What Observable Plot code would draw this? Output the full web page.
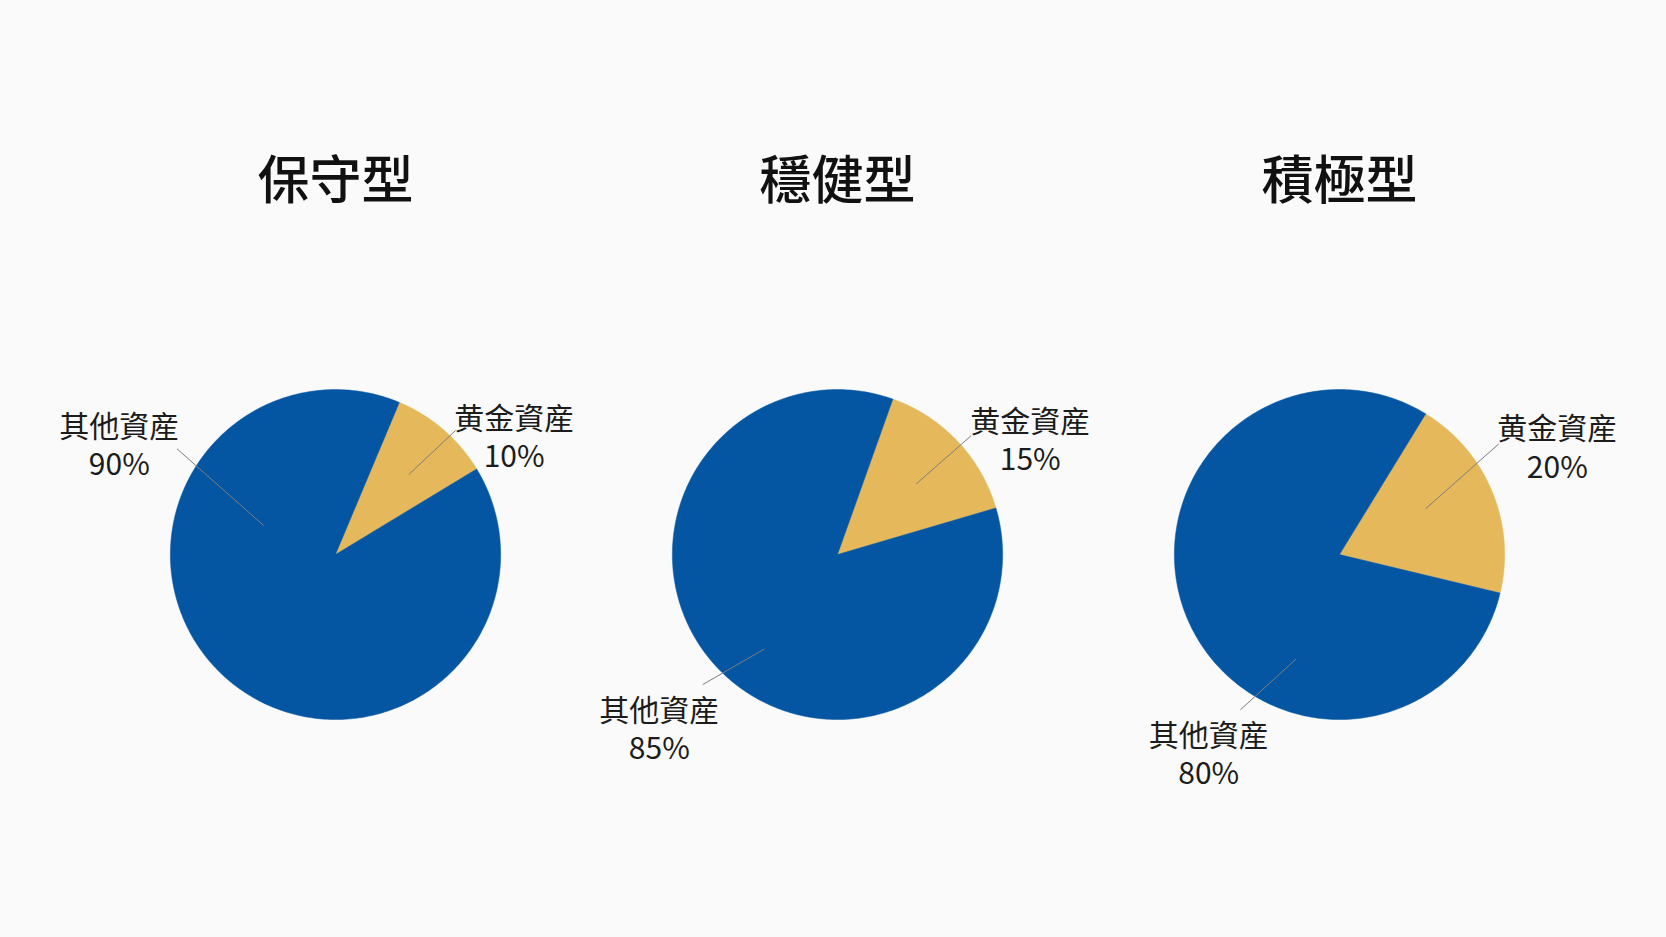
<!DOCTYPE html>
<html><head><meta charset="utf-8">
<script src="https://cdn.jsdelivr.net/npm/d3@7"></script>
<script src="https://cdn.jsdelivr.net/npm/@observablehq/plot@0.6"></script>
<style>
html,body{margin:0;padding:0;background:#fafafa;}
#chart{width:1666px;height:937px;overflow:hidden;}
</style></head><body><div id="chart"></div>
<script>
// ---- data ----
const profiles = ["保守型", "穩健型", "積極型"];
const categories = ["黄金資産", "其他資産"];
const goldShare = [10, 15, 20];
const otherShare = [90, 85, 80];

// ---- styling / layout (not data) ----
const colors = ["#E5B95B", "#0556A2"];
const rotation = [22.75, 19.6, 31.5]; // start angle (deg, clockwise from 12 o'clock) of gold slice
const labelLayout = [
  {gold: [1.082, 0.721], other: [-1.309, 0.673],
   goldLeader: [0.727, 0.752, 0.444, 0.485], otherLeader: [-0.960, 0.641, -0.435, 0.176]},
  {gold: [1.167, 0.701], other: [-1.079, -1.051],
   goldLeader: [0.810, 0.721, 0.477, 0.428], otherLeader: [-0.816, -0.788, -0.442, -0.572]},
  {gold: [1.319, 0.656], other: [-0.792, -1.203],
   goldLeader: [0.965, 0.671, 0.521, 0.277], otherLeader: [-0.600, -0.941, -0.262, -0.632]}
];

// ---- build wedge geometry from shares ----
const wedges = [];
const labels = [];
const leaders = [];
profiles.forEach((p, i) => {
  const shares = [goldShare[i], otherShare[i]];
  let a = rotation[i];
  shares.forEach((v, k) => {
    const a0 = a, a1 = a + v / 100 * 360;
    const cat = categories[k];
    wedges.push({profile: p, category: cat, x: 0, y: 0});
    const steps = Math.max(2, Math.ceil(a1 - a0));
    for (let s = 0; s <= steps; s++) {
      const t = (a0 + (a1 - a0) * s / steps) * Math.PI / 180;
      wedges.push({profile: p, category: cat, x: Math.sin(t), y: Math.cos(t)});
    }
    wedges.push({profile: p, category: cat, x: 0, y: 0});
    a = a1;
    const key = k === 0 ? "gold" : "other";
    const L = labelLayout[i];
    labels.push({profile: p, text: `${cat}\n${v}%`, x: L[key][0], y: L[key][1]});
    const ld = L[key + "Leader"];
    leaders.push({profile: p, x1: ld[0], y1: ld[1], x2: ld[2], y2: ld[3]});
  });
});

const chart = Plot.plot({
  width: 1666,
  height: 937,
  marginLeft: 84,
  marginRight: 76,
  marginTop: 0,
  marginBottom: 0,
  style: {background: "transparent", fontFamily: "'Noto Sans CJK TC', 'Noto Sans CJK JP', sans-serif", overflow: "visible"},
  fx: {domain: profiles, padding: 0, axis: null},
  x: {domain: [-1.52, 1.52], axis: null},
  y: {domain: [-2.321, 3.358], axis: null},
  color: {domain: categories, range: colors},
  marks: [
    Plot.line(wedges, {fx: "profile", x: "x", y: "y", z: "category", fill: "category", stroke: "category", strokeWidth: 0.5, curve: "linear-closed"}),
    Plot.link(leaders, {fx: "profile", x1: "x1", y1: "y1", x2: "x2", y2: "y2", stroke: "#7d7d7d", strokeWidth: 1}),
    Plot.text(labels, {fx: "profile", x: "x", y: "y", text: "text", fontSize: 30, lineHeight: 1.27, fill: "#1c1c1c", textAnchor: "middle", lineAnchor: "middle"}),
    Plot.text(profiles, {fx: d => d, x: () => 0, y: () => 2.255, text: d => d, fontSize: 52, fontWeight: 500, fill: "#111", textAnchor: "middle", lineAnchor: "middle"})
  ]
});
document.getElementById("chart").appendChild(chart);
</script>
</body></html>
